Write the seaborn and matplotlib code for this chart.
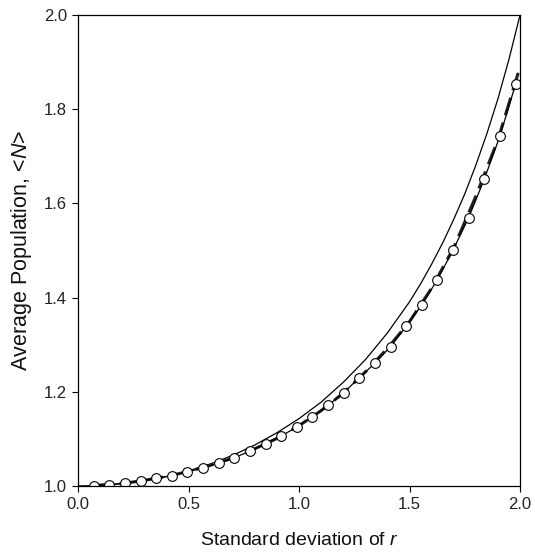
import matplotlib
matplotlib.use("Agg")
import matplotlib.pyplot as plt
import seaborn as sns
import pandas as pd

# Simulated points (open circles)
sim_x = [0.071, 0.141, 0.212, 0.283, 0.354, 0.424, 0.495, 0.566, 0.636, 0.707,
         0.778, 0.849, 0.919, 0.990, 1.061, 1.131, 1.202, 1.273, 1.344, 1.414,
         1.485, 1.556, 1.626, 1.697, 1.768, 1.838, 1.909, 1.980]
sim_y = [1.001, 1.003, 1.006, 1.011, 1.016, 1.022, 1.030, 1.038, 1.049, 1.060,
         1.074, 1.090, 1.106, 1.125, 1.147, 1.171, 1.198, 1.230, 1.261, 1.296,
         1.339, 1.385, 1.438, 1.501, 1.570, 1.651, 1.743, 1.853]

# Dashed approximation curve
dash_x = [0.07, 0.1, 0.2, 0.3, 0.4, 0.5, 0.6, 0.7, 0.8, 0.9, 1.0, 1.1, 1.2, 1.3,
          1.4, 1.5, 1.6, 1.7, 1.8, 1.9, 2.0]
dash_y = [1.001, 1.002, 1.005, 1.012, 1.020, 1.031, 1.044, 1.059, 1.079, 1.101,
          1.128, 1.160, 1.197, 1.242, 1.292, 1.349, 1.420, 1.506, 1.615, 1.735, 1.890]

# Thin solid curve
thin_x = [0.0, 0.1, 0.2, 0.3, 0.4, 0.5, 0.6, 0.7, 0.8, 0.9, 1.0, 1.1, 1.2, 1.3,
          1.4, 1.5, 1.55, 1.6, 1.65, 1.7, 1.75, 1.8, 1.85, 1.9, 1.95, 2.0]
thin_y = [1.000, 1.001, 1.005, 1.011, 1.020, 1.032, 1.047, 1.065, 1.087, 1.113,
          1.143, 1.178, 1.220, 1.268, 1.325, 1.391, 1.429, 1.471, 1.516, 1.566,
          1.620, 1.681, 1.748, 1.822, 1.906, 2.000]

x_ticks = [0.0, 0.5, 1.0, 1.5, 2.0]
y_ticks = [1.0, 1.2, 1.4, 1.6, 1.8, 2.0]

sns.set_theme(style="ticks")
plt.rcParams["font.family"] = ["Liberation Sans", "DejaVu Sans"]
plt.rcParams["mathtext.fontset"] = "custom"
plt.rcParams["mathtext.rm"] = "Liberation Sans"
plt.rcParams["mathtext.it"] = "Liberation Sans:italic"

fig = plt.figure(figsize=(5.35, 5.53), dpi=100)
ax = fig.add_axes([0.1458, 0.1212, 0.8262, 0.8517])

df_thin = pd.DataFrame({"x": thin_x, "y": thin_y})
df_dash = pd.DataFrame({"x": dash_x, "y": dash_y})
df_sim = pd.DataFrame({"x": sim_x, "y": sim_y})

sns.lineplot(data=df_thin, x="x", y="y", ax=ax, color="black", linewidth=0.9,
             sort=False)
sns.lineplot(data=df_dash, x="x", y="y", ax=ax, color="#222222", linewidth=2.2,
             dashes=False, sort=False, linestyle=(0, (6, 2.5)))
sns.lineplot(data=df_sim, x="x", y="y", ax=ax, color="black", linewidth=0.9,
             marker="o", markersize=7, markerfacecolor="white",
             markeredgecolor="black", markeredgewidth=0.8, sort=False)

ax.set_xlim(0, 2.0)
ax.set_ylim(1.0, 2.0)
ax.set_xticks(x_ticks)
ax.set_yticks(y_ticks)
ax.set_xticklabels([f"{v:.1f}" for v in x_ticks])
ax.set_yticklabels([f"{v:.1f}" for v in y_ticks])
ax.tick_params(direction="out", length=4, width=0.8, labelsize=12,
               color="black", labelcolor="#222222", pad=4)
for s in ax.spines.values():
    s.set_visible(True)
    s.set_color("black")
    s.set_linewidth(0.9)

ax.set_xlabel("Standard deviation of $\\it{r}$", fontsize=14, labelpad=14,
              color="#111111")
ax.set_ylabel("Average Population, <$\\it{N}$>", fontsize=15.5, labelpad=7,
              color="#111111")

fig.savefig("out.png", dpi=100)
